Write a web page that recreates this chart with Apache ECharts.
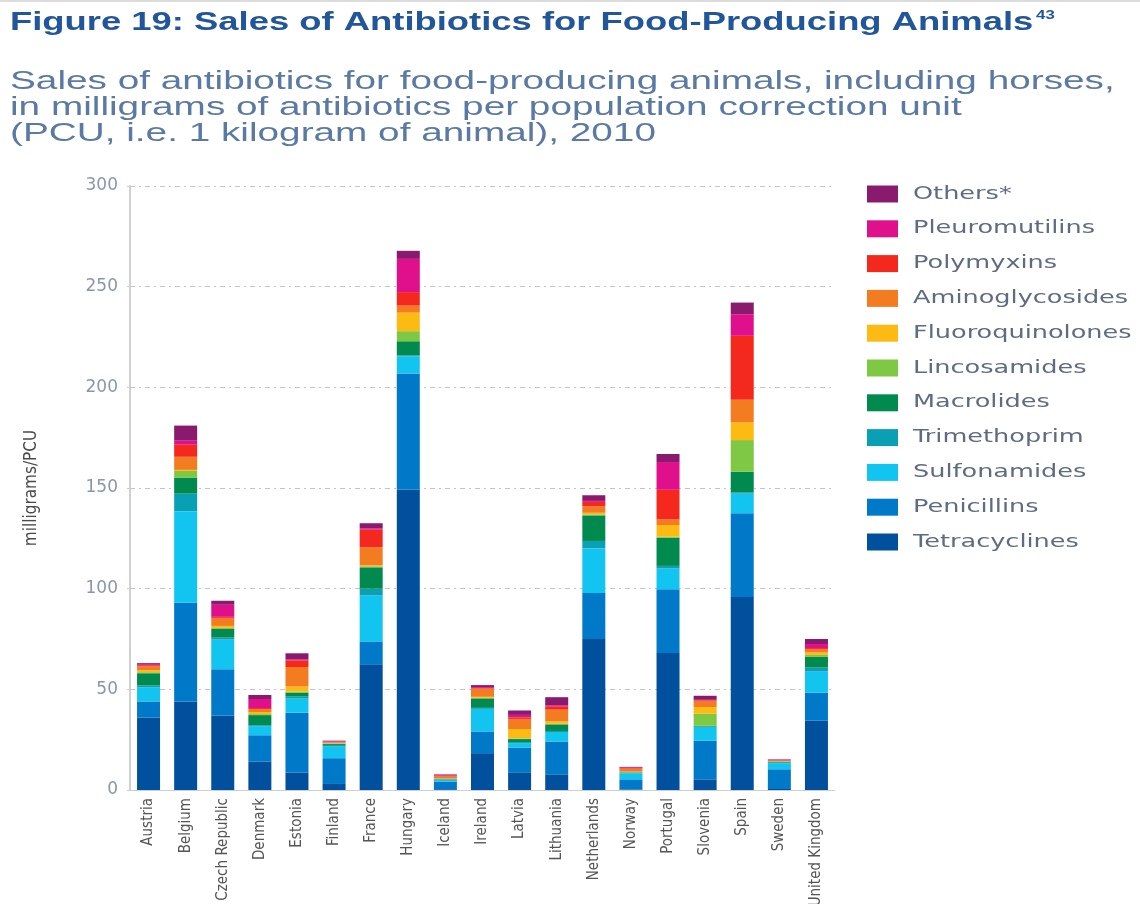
<!DOCTYPE html>
<html>
<head>
<meta charset="utf-8">
<script src="https://cdn.jsdelivr.net/npm/echarts@6/dist/echarts.min.js"></script>
<style>
  html, body { margin: 0; padding: 0; background: #fff; }
  #chart { width: 1140px; height: 904px; }
</style>
</head>
<body>
<div id="chart"></div>
<script>
const countries = ['Austria', 'Belgium', 'Czech Republic', 'Denmark', 'Estonia', 'Finland', 'France', 'Hungary', 'Iceland', 'Ireland', 'Latvia', 'Lithuania', 'Netherlands', 'Norway', 'Portugal', 'Slovenia', 'Spain', 'Sweden', 'United Kingdom'];

// mg/PCU per antibiotic class, in country order
const tetracyclines     = [36, 44, 37, 14.2, 8.7, 3, 62.4, 149.3, 0.4, 18.3, 8.8, 7.8, 75, 0.3, 68, 5.3, 95.8, 0.5, 34.5];
const penicillins       = [8, 49, 23, 13, 29.7, 12.8, 11.4, 57.6, 3.8, 10.8, 12.3, 16.3, 22.8, 5, 31.7, 19.2, 41.7, 9.8, 13.8];
const sulfonamides      = [7, 45.5, 14.7, 4.5, 7, 5.8, 22.8, 8.5, 0.8, 11.2, 2.2, 4.7, 22.2, 3, 10.3, 6.8, 9.7, 3, 10.5];
const trimethoprim      = [1, 8.7, 1, 0.5, 1, 0.8, 3.4, 0.5, 0.2, 0.5, 0.5, 0.5, 3.7, 0.3, 1.3, 0.3, 0.7, 0.5, 2];
const macrolides        = [6, 8, 4.5, 5, 2, 0.5, 10.6, 7, 0.2, 4.7, 1.5, 3.3, 12.7, 0.2, 14, 0.3, 10.2, 0.3, 5.3];
const lincosamides      = [0.5, 3.3, 0.3, 0.5, 0.5, 0.3, 0.5, 5, 0.1, 0.3, 0.3, 0.3, 0.5, 0.1, 0.5, 6, 15.7, 0.2, 1];
const fluoroquinolones  = [1, 0.5, 1, 1, 2.5, 0.2, 0.5, 9.2, 0.2, 0.5, 4.7, 1.2, 0.8, 0.2, 5.8, 3.3, 8.8, 0.1, 1.2];
const aminoglycosides   = [2, 6.5, 4, 1.5, 9.7, 0.3, 9, 3.5, 1.2, 4, 5, 5.8, 3.2, 1.5, 2.8, 3, 11.2, 0.2, 1.7];
const polymyxins        = [0.5, 6, 0.5, 0.5, 3.3, 0.3, 8.7, 6.7, 0.4, 0.3, 0.8, 1.7, 2.2, 0.3, 14.7, 0.3, 31.8, 0.4, 0.5];
const pleuromutilins    = [0.5, 2, 6, 4.5, 0.5, 0.3, 0.7, 16.5, 0.3, 0.5, 1.2, 0.5, 0.5, 0.2, 13.8, 0.3, 10.7, 0.2, 2];
const others            = [0.5, 7.5, 2, 2, 3, 0.2, 2.5, 4, 0.2, 1, 2.2, 4, 2.8, 0.4, 4, 2, 5.8, 0.1, 2.5];

const yTicks = [0, 50, 100, 150, 200, 250, 300];

const classes = [
  { name: 'Tetracyclines', data: tetracyclines, color: '#00509e' },
  { name: 'Penicillins', data: penicillins, color: '#0079c8' },
  { name: 'Sulfonamides', data: sulfonamides, color: '#12c4f0' },
  { name: 'Trimethoprim', data: trimethoprim, color: '#0aa0b4' },
  { name: 'Macrolides', data: macrolides, color: '#008a4e' },
  { name: 'Lincosamides', data: lincosamides, color: '#7ec843' },
  { name: 'Fluoroquinolones', data: fluoroquinolones, color: '#fdba12' },
  { name: 'Aminoglycosides', data: aminoglycosides, color: '#f47c20' },
  { name: 'Polymyxins', data: polymyxins, color: '#f5281e' },
  { name: 'Pleuromutilins', data: pleuromutilins, color: '#e0108c' },
  { name: 'Others*', data: others, color: '#8a1a6e' }
];

// the source figure is stretched sideways, so text is widened to match
const STRETCH = 1.4;

const legendItems = classes.slice().reverse().map((c, i) => ({
  type: 'group',
  x: 867,
  y: 194 + i * 34.8,
  children: [
    { type: 'rect', shape: { x: 0, y: -8.5, width: 31, height: 17 }, style: { fill: c.color } },
    {
      type: 'text', x: 46, y: 0, scaleX: 1.42,
      style: { text: c.name, font: '18px "DejaVu Sans"', fill: '#5e6b82', verticalAlign: 'middle' }
    }
  ]
}));

const chart = echarts.init(document.getElementById('chart'), null, { renderer: 'canvas' });

chart.setOption({
  animation: false,
  graphic: [
    { type: 'rect', shape: { x: 0, y: 0, width: 1140, height: 2 }, style: { fill: '#dcdcdc' } },
    {
      type: 'text', x: 10, y: 23, scaleX: STRETCH,
      style: {
        text: '{t|Figure 19: Sales of Antibiotics for Food-Producing Animals}{s|43}',
        verticalAlign: 'middle',
        rich: {
          t: { font: 'bold 26px "Liberation Sans"', fill: '#22569a' },
          s: { font: 'bold 12px "Liberation Sans"', fill: '#22569a', verticalAlign: 'top', padding: [0, 0, 0, 2] }
        }
      }
    },
    {
      type: 'text', x: 10, y: 69, scaleX: 1.49,
      style: {
        text: 'Sales of antibiotics for food-producing animals, including horses,\nin milligrams of antibiotics per population correction unit\n(PCU, i.e. 1 kilogram of animal), 2010',
        font: '26px "Liberation Sans"',
        lineHeight: 26,
        fill: '#5b7aa3'
      }
    }
  ].concat(legendItems),
  grid: { left: 130, right: 305, top: 186, bottom: 114, outerBoundsMode: 'none', containLabel: false },
  xAxis: {
    type: 'category',
    data: countries,
    axisLine: { lineStyle: { color: '#cfcfcf', width: 1 } },
    axisTick: { show: false },
    axisLabel: {
      rotate: 90,
      interval: 0,
      margin: 8,
      fontFamily: '"DejaVu Sans Condensed", "Liberation Sans"',
      fontSize: 15,
      color: '#555555'
    }
  },
  yAxis: {
    type: 'value',
    min: yTicks[0],
    max: yTicks[yTicks.length - 1],
    interval: 50,
    name: 'milligrams/PCU',
    nameLocation: 'middle',
    nameGap: 90,
    nameTextStyle: { fontFamily: '"DejaVu Sans Condensed", "Liberation Sans"', fontSize: 17, color: '#4a4a4a' },
    axisLine: { show: true, lineStyle: { color: '#d0d0d0', width: 2 } },
    axisTick: { show: true, length: 3, lineStyle: { color: '#cccccc' } },
    axisLabel: { margin: 12, fontFamily: 'DejaVu Sans', fontSize: 17, color: '#8a96aa' },
    splitLine: { lineStyle: { color: '#c4c4c4', type: [5, 4, 2, 4] } }
  },
  series: classes.map(c => ({
    name: c.name,
    type: 'bar',
    stack: 'total',
    barWidth: 23,
    data: c.data,
    itemStyle: { color: c.color }
  }))
});
</script>
</body>
</html>
